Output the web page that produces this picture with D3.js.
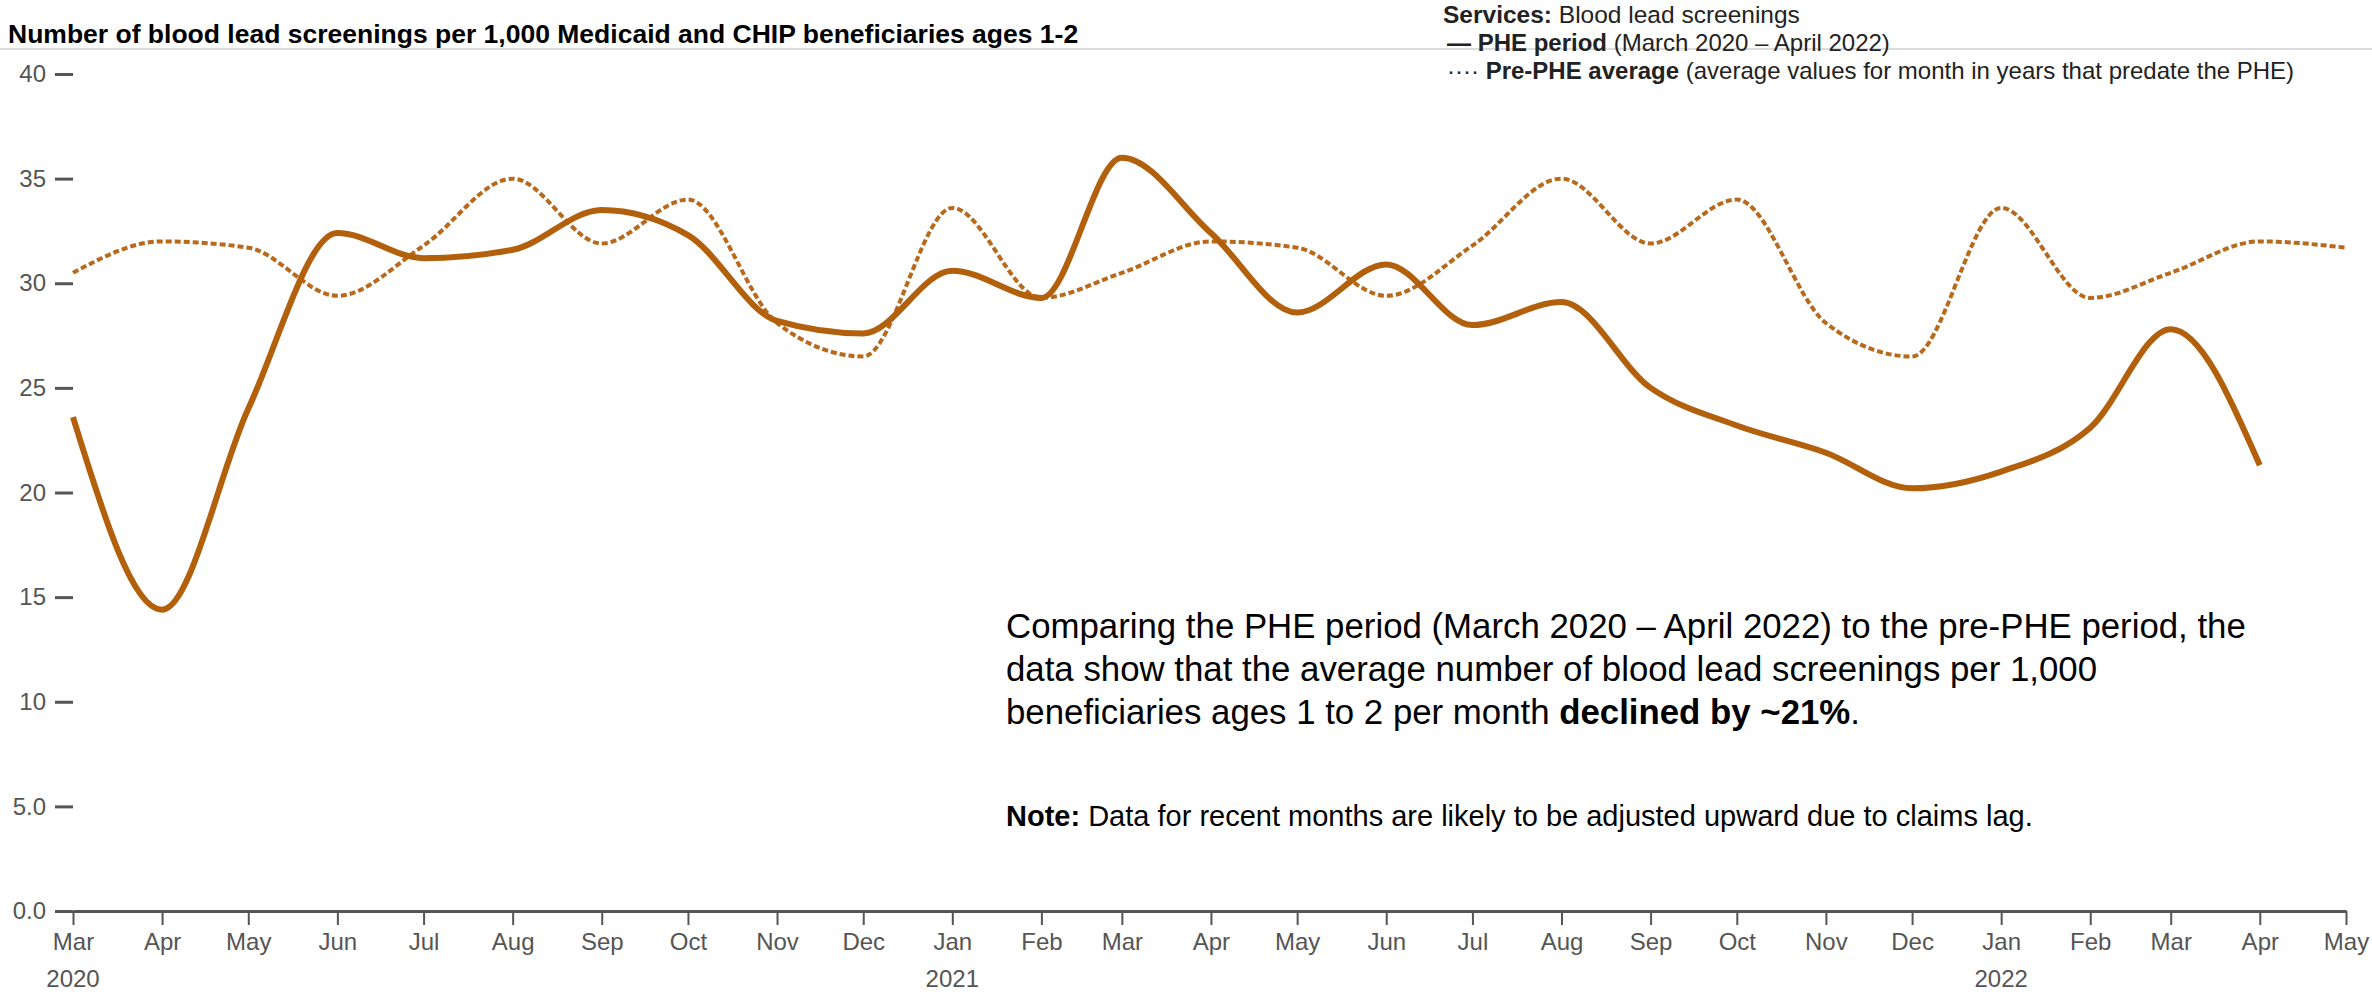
<!DOCTYPE html>
<html>
<head>
<meta charset="utf-8">
<script src="https://cdn.jsdelivr.net/npm/d3@7"></script>
<style>
  body { margin: 0; background: #fff; }
  text { font-family: "Liberation Sans", Arial, sans-serif; }
  .tick text { fill: #555; font-size: 24px; }
</style>
</head>
<body>
<div id="chart"></div>
<script>
// Chart data
var months = ["2020-03", "2020-04", "2020-05", "2020-06", "2020-07", "2020-08", "2020-09",
    "2020-10", "2020-11", "2020-12", "2021-01", "2021-02", "2021-03", "2021-04", "2021-05",
    "2021-06", "2021-07", "2021-08", "2021-09", "2021-10", "2021-11", "2021-12", "2022-01",
    "2022-02", "2022-03", "2022-04", "2022-05"];

// PHE period (Mar 2020 - Apr 2022)
var pheValues = [23.6, 14.4, 24.0, 32.4, 31.2, 31.6, 33.5, 32.3, 28.2, 27.6, 30.6, 29.3,
    36.0, 32.4, 28.6, 30.9, 28.0, 29.1, 25.0, 23.2, 21.9, 20.2, 21.0, 23.1, 27.8, 21.3];

// Pre-PHE average (Mar 2020 - May 2022)
var preValues = [30.5, 32.0, 31.7, 29.4, 31.8, 35.0, 31.9, 34.0, 28.1, 26.5, 33.6, 29.3,
    30.5, 32.0, 31.7, 29.4, 31.8, 35.0, 31.9, 34.0, 28.1, 26.5, 33.6, 29.3,
    30.5, 32.0, 31.7];

var yTicks = [0, 5, 10, 15, 20, 25, 30, 35, 40];
var yearTicks = ["2020-03", "2021-01", "2022-01"];
var yearLabels = ["2020", "2021", "2022"];

var svgWidth = 2372;
var svgHeight = 994;

var margin = { top: 74, right: 26, bottom: 83, left: 73 };
var width = svgWidth - margin.left - margin.right;
var height = svgHeight - margin.top - margin.bottom;

var parseMonth = d3.timeParse("%Y-%m");
var dates = months.map(parseMonth);

var svg = d3.select("#chart")
    .append("svg")
    .attr("width", svgWidth)
    .attr("height", svgHeight);

// header separator
svg.append("line")
    .attr("x1", 0).attr("x2", svgWidth)
    .attr("y1", 49).attr("y2", 49)
    .attr("stroke", "#dcdcdc")
    .attr("stroke-width", 2);

svg.append("text")
    .attr("x", 8)
    .attr("y", 43)
    .attr("font-size", "26.5px")
    .attr("font-weight", "bold")
    .attr("fill", "#000")
    .text("Number of blood lead screenings per 1,000 Medicaid and CHIP beneficiaries ages 1-2");

// legend
var legend = svg.append("g").attr("fill", "#222").attr("font-size", "24px");
var l1 = legend.append("text").attr("x", 1443).attr("y", 23).attr("font-size", "24.5px");
l1.append("tspan").attr("font-weight", "bold").text("Services:");
l1.append("tspan").text(" Blood lead screenings");

var l2 = legend.append("text").attr("x", 1447).attr("y", 51);
l2.append("tspan").attr("font-weight", "bold").text("— PHE period");
l2.append("tspan").text(" (March 2020 – April 2022)");

var l3 = legend.append("text").attr("x", 1447).attr("y", 79);
l3.append("tspan").text("···· ");
l3.append("tspan").attr("font-weight", "bold").text("Pre-PHE average");
l3.append("tspan").text(" (average values for month in years that predate the PHE)");

var chartGroup = svg.append("g")
    .attr("transform", `translate(${margin.left}, ${margin.top})`);

var xTimeScale = d3.scaleTime()
    .domain([dates[0], dates[dates.length - 1]])
    .range([0, width]);

var yLinearScale = d3.scaleLinear()
    .domain([0, 40])
    .range([height, 0]);

// y axis (ticks only)
var leftAxis = d3.axisLeft(yLinearScale)
    .tickValues(yTicks)
    .tickSize(18)
    .tickPadding(9)
    .tickFormat(d => d < 10 ? d3.format(".1f")(d) : d3.format("d")(d));

var yAxisG = chartGroup.append("g").call(leftAxis);
yAxisG.select(".domain").remove();
yAxisG.selectAll(".tick line").attr("stroke", "#555").attr("stroke-width", 3);

// x axis
var bottomAxis = d3.axisBottom(xTimeScale)
    .ticks(d3.timeMonth.every(1))
    .tickFormat(d3.timeFormat("%b"))
    .tickSize(14)
    .tickSizeOuter(0)
    .tickPadding(8);

var xAxisG = chartGroup.append("g")
    .attr("transform", `translate(0, ${height})`)
    .call(bottomAxis);
xAxisG.select(".domain").attr("stroke", "#555").attr("stroke-width", 3);
xAxisG.selectAll(".tick line").attr("stroke", "#555").attr("stroke-width", 2);

chartGroup.append("g").selectAll("text")
    .data(yearTicks)
    .enter()
    .append("text")
    .attr("x", (d, i) => xTimeScale(parseMonth(d)))
    .attr("y", height + 76)
    .attr("text-anchor", "middle")
    .attr("font-size", "24px")
    .attr("fill", "#555")
    .text((d, i) => yearLabels[i]);

// lines
var lineGen = d3.line()
    .x(d => xTimeScale(d.date))
    .y(d => yLinearScale(d.value))
    .curve(d3.curveMonotoneX);

var preData = preValues.map((v, i) => ({ date: dates[i], value: v }));
var pheData = pheValues.map((v, i) => ({ date: dates[i], value: v }));

chartGroup.append("path")
    .datum(preData)
    .attr("d", lineGen)
    .attr("fill", "none")
    .attr("stroke", "#b8691b")
    .attr("stroke-width", 4)
    .attr("stroke-dasharray", "6,3");

chartGroup.append("path")
    .datum(pheData)
    .attr("d", lineGen)
    .attr("fill", "none")
    .attr("stroke", "#b3600c")
    .attr("stroke-width", 6);

// annotation
var note = svg.append("g").attr("fill", "#000");
var paraLines = [
    ["Comparing the PHE period (March 2020 – April 2022) to the pre-PHE period, the"],
    ["data show that the average number of blood lead screenings per 1,000"],
    ["beneficiaries ages 1 to 2 per month ", "declined by ~21%", "."]
];
paraLines.forEach(function(parts, i) {
    var t = note.append("text")
        .attr("x", 1006)
        .attr("y", 638 + i * 43)
        .attr("font-size", "34.8px");
    parts.forEach(function(p, j) {
        t.append("tspan").attr("font-weight", j === 1 ? "bold" : "normal").text(p);
    });
});

var n = note.append("text").attr("x", 1006).attr("y", 826).attr("font-size", "29px");
n.append("tspan").attr("font-weight", "bold").text("Note:");
n.append("tspan").text(" Data for recent months are likely to be adjusted upward due to claims lag.");
</script>
</body>
</html>
